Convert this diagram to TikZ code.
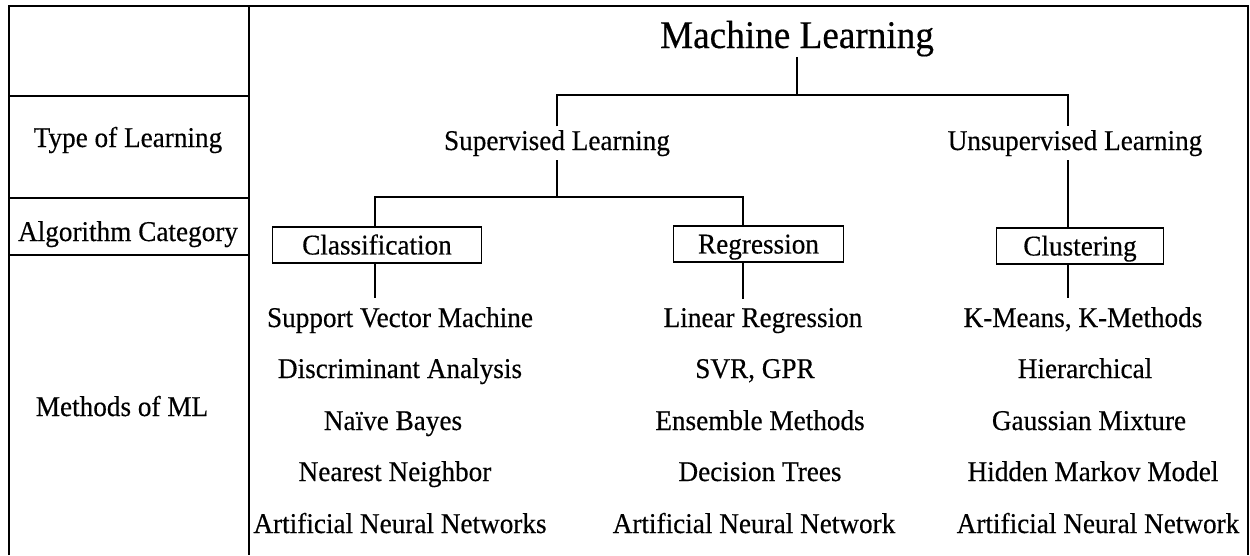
\documentclass[tikz,border=0pt]{standalone}
\usepackage{fontspec}
\setmainfont{Liberation Serif}[FakeStretch=0.95, FakeBold=0.4]
\usetikzlibrary{positioning}

\tikzset{
  frameline/.style={line width=0.9pt},
  link/.style={line width=0.85pt},
  rowlabel/.style={font=\fontsize{16.3}{19}\selectfont, inner sep=0pt, anchor=base},
  title/.style={font=\fontsize{22.3}{26}\selectfont, inner sep=0pt, anchor=base},
  learntype/.style={font=\fontsize{16.3}{19}\selectfont, inner sep=2pt, anchor=base},
  catbox/.style={draw, line width=0.85pt, inner sep=0pt, minimum height=20.4pt,
    text height=10.8pt, text depth=0pt, font=\fontsize{16.3}{19}\selectfont},
  method/.style={font=\fontsize{16.3}{19}\selectfont, inner sep=5pt, anchor=base}
}

\begin{document}
\begin{tikzpicture}[x=0.02cm, y=-0.02cm]
\useasboundingbox (0,0) rectangle (1250,555);

% Table frame (runs off the bottom edge)
\draw[frameline] (9,555) -- (9,6) -- (1248,6) -- (1248,555);
\draw[frameline] (249,6) -- (249,555);
\draw[frameline] (9,96) -- (249,96);
\draw[frameline] (9,198) -- (249,198);
\draw[frameline] (9,255) -- (249,255);

% Row labels
\node[rowlabel] (typerow) at (128,147) {Type of Learning};
\node[rowlabel] (algorow) at (128,241) {Algorithm Category};
\node[rowlabel] (methrow) at (122,416) {Methods of ML};

% Root and learning types
\node[title] (ml) at (797,48) {Machine Learning};
\node[learntype] (sup) at (557,150) {Supervised Learning};
\node[learntype] (uns) at (1075,150) {Unsupervised Learning};

% Algorithm categories
\node[catbox, minimum width=119pt] (cls) at (377,245) {Classification};
\node[catbox, minimum width=97pt] (reg) at (758.5,244) {Regression};
\node[catbox, minimum width=95pt] (clu) at (1080,246) {Clustering};

% Classification methods
\node[method] (svm) at (400,327) {Support Vector Machine};
\node[method] (disc) at (400,378) {Discriminant Analysis};
\node[method] (nbayes) at (393,430) {Naïve Bayes};
\node[method] (nn) at (395,481) {Nearest Neighbor};
\node[method] (annc) at (400,533) {Artificial Neural Networks};

% Regression methods
\node[method] (linreg) at (763,327) {Linear Regression};
\node[method] (svr) at (755,378) {SVR, GPR};
\node[method] (ens) at (760,430) {Ensemble Methods};
\node[method] (dtree) at (760,481) {Decision Trees};
\node[method] (annr) at (754,533) {Artificial Neural Network};

% Clustering methods
\node[method] (kmeans) at (1083,327) {K-Means, K-Methods};
\node[method] (hier) at (1085,378) {Hierarchical};
\node[method] (gmm) at (1089,430) {Gaussian Mixture};
\node[method] (hmm) at (1093,481) {Hidden Markov Model};
\node[method] (annu) at (1098,533) {Artificial Neural Network};

% Junctions and stems
\coordinate (jtop) at (797,95);
\coordinate (jsup) at (557,197);
\coordinate (cstem) at (375,0);
\coordinate (rstem) at (743,0);
\coordinate (ustem) at (1068,0);

% Tree lines
\draw[link] (ml.south) -- (jtop);
\draw[link] (sup.north) |- (jtop) -| (uns.north -| ustem);
\draw[link] (sup.south) -- (jsup);
\draw[link] (cls.north -| cstem) |- (jsup) -| (reg.north -| rstem);
\draw[link] (uns.south -| ustem) -- (clu.north -| ustem);
\draw[link] (cls.south -| cstem) -- (svm.north -| cstem);
\draw[link] (reg.south -| rstem) -- (linreg.north -| rstem);
\draw[link] (clu.south -| ustem) -- (kmeans.north -| ustem);
\end{tikzpicture}
\end{document}
